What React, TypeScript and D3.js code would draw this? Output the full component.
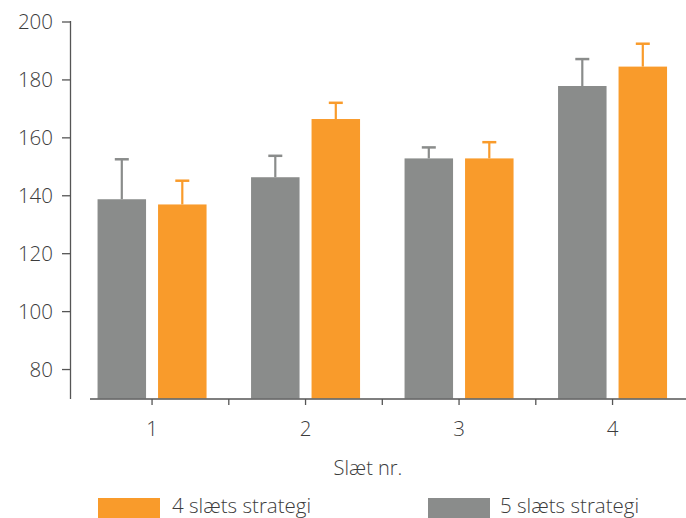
import React from "react";
import * as d3 from "d3";

const categories = ["1", "2", "3", "4"];
const series = ["5 slæts strategi", "4 slæts strategi"];
const gray5 = [138.8, 146.4, 152.9, 177.9];
const gray5Err = [152.6, 153.8, 156.7, 187.2];
const orange4 = [137.0, 166.5, 152.9, 184.6];
const orange4Err = [145.2, 172.1, 158.5, 192.5];
const yTicks = [80, 100, 120, 140, 160, 180, 200];
const xTitle = "Slæt nr.";

const GRAY = "#8a8c8b";
const ORANGE = "#f99b2b";
const TEXT = "#3c3c3c";
const AXIS = "#555";
const FONT = "'Open Sans', 'DejaVu Sans', sans-serif";

export default function App() {
  const W = 686, H = 518;
  const y = d3.scaleLinear().domain([70, 200]).range([398.5, 22]);
  const x = d3.scaleBand<string>().domain(categories).range([75.3, 689.3]).paddingInner(0).paddingOuter(0);
  const bw = 48.5;
  const offs = [0, 60.5];
  const data = [
    { name: series[0], vals: gray5, err: gray5Err, color: GRAY },
    { name: series[1], vals: orange4, err: orange4Err, color: ORANGE },
  ];
  const bandW = x.bandwidth();
  const groupW = 109;
  const xTicks: number[] = [];
  categories.forEach((c, i) => {
    xTicks.push((x(c) as number) + bandW / 2);
    if (i < categories.length - 1) xTicks.push((x(c) as number) + bandW);
  });

  return (
    <svg width={W} height={H} style={{ position: "absolute", left: 0, top: 0, background: "#fff" }} fontFamily={FONT}>
      {data.map((s, si) =>
        categories.map((c, i) => {
          const gx = (x(c) as number) + (bandW - groupW) / 2 + offs[si];
          const cx = gx + bw / 2;
          return (
            <g key={s.name + c}>
              <line x1={cx} x2={cx} y1={y(s.vals[i])} y2={y(s.err[i])} stroke={s.color} strokeWidth={2.2} />
              <line x1={cx - 7} x2={cx + 7} y1={y(s.err[i])} y2={y(s.err[i])} stroke={s.color} strokeWidth={2.5} />
              <rect x={gx} y={y(s.vals[i])} width={bw} height={y(70) - y(s.vals[i])} fill={s.color} />
            </g>
          );
        })
      )}
      <line x1={70.5} x2={70.5} y1={y(200) - 1} y2={399} stroke={AXIS} strokeWidth={1.3} />
      {yTicks.map((t) => (
        <g key={t}>
          <line x1={62} x2={70.5} y1={y(t)} y2={y(t)} stroke={AXIS} strokeWidth={1.3} />
          <text x={53} y={y(t)} dy="0.36em" textAnchor="end" fontSize={20.5} fill={TEXT} fontWeight={300}>
            {t}
          </text>
        </g>
      ))}
      <line x1={90} x2={686} y1={399} y2={399} stroke={AXIS} strokeWidth={1.3} />
      {xTicks.map((t, i) => (
        <line key={i} x1={t} x2={t} y1={399} y2={405} stroke={AXIS} strokeWidth={1.3} />
      ))}
      {categories.map((c) => (
        <text key={c} x={(x(c) as number) + bandW / 2} y={436} textAnchor="middle" fontSize={20.5} fill={TEXT} fontWeight={300}>
          {c}
        </text>
      ))}
      <text x={368} y={475} textAnchor="middle" fontSize={20} fill={TEXT} fontWeight={300}>
        {xTitle}
      </text>
      <rect x={98} y={498} width={62} height={22} fill={ORANGE} />
      <text x={172} y={513} fontSize={20.5} fill={TEXT} fontWeight={300}>
        {series[1]}
      </text>
      <rect x={428} y={498} width={62} height={22} fill={GRAY} />
      <text x={500} y={513} fontSize={20.5} fill={TEXT} fontWeight={300}>
        {series[0]}
      </text>
    </svg>
  );
}
